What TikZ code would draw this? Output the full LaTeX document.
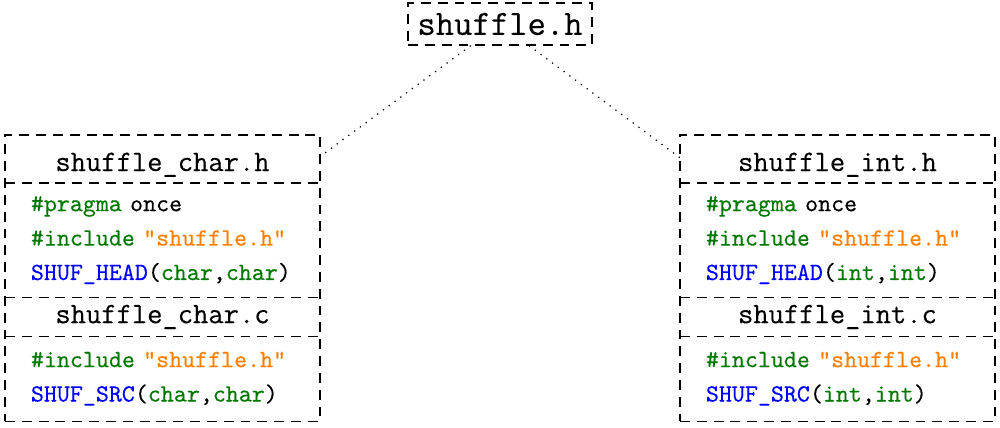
\documentclass[tikz,border=0pt]{standalone}
\usepackage{xcolor}
\usepackage{fontspec}
\setmonofont{Latin Modern Mono}[FakeBold=0.25]
\usepackage{tikz}
\usetikzlibrary{positioning, fit}
\definecolor{mygreen}{RGB}{0,120,0}
\definecolor{myorange}{RGB}{255,128,0}
\definecolor{myblue}{RGB}{0,0,255}
\newcommand{\codekw}[1]{\textcolor{mygreen}{#1}}
\newcommand{\codestr}[1]{\textcolor{myorange}{#1}}
\newcommand{\codefn}[1]{\textcolor{myblue}{#1}}
\tikzset{
  dash frame/.style={line width=0.45pt, dash pattern=on 4pt off 2.8pt},
  topfile/.style={rectangle, draw, dash frame, minimum width=74.3pt,
    minimum height=17pt, inner sep=0pt, font=\Large\ttfamily},
  filettl/.style={rectangle, minimum width=127.3pt, minimum height=19.4pt,
    inner sep=0pt, outer sep=0pt, font=\large\ttfamily},
  filecode/.style={rectangle, text width=106.3pt, inner xsep=10.5pt,
    inner ysep=0pt, outer sep=0pt, align=left,
    font=\ttfamily\fontsize{10}{13.9}\selectfont},
  filebox/.style={rectangle, draw, dash frame, inner sep=0pt},
  sepline/.style={dash frame},
  link/.style={line width=0.5pt, dash pattern=on 0.5pt off 2.4pt}
}

\begin{document}
\begin{tikzpicture}[x=0.404pt, y=-0.404pt]
  \useasboundingbox (0,0) rectangle (1000,428);

  \node[topfile] (shuf) at (500,24) {shuffle.h};

  % char version
  \node[filettl, anchor=north, text height=11pt, text depth=1.3pt] (lhttl)
    at (162.5,135) {shuffle\_char.h};
  \node[filecode, below=0pt of lhttl, minimum height=46.1pt] (lhcode)
    {\codekw{\#pragma} once\\
     \codekw{\#include} \codestr{"shuffle.h"}\\
     \codefn{SHUF\_HEAD}(\codekw{char},\codekw{char})};
  \node[filettl, below=0pt of lhcode, minimum height=15.8pt,
    text height=8pt, text depth=2.75pt] (lcttl) {shuffle\_char.c};
  \node[filecode, below=0pt of lcttl, minimum height=34.3pt] (lccode)
    {\codekw{\#include} \codestr{"shuffle.h"}\\
     \codefn{SHUF\_SRC}(\codekw{char},\codekw{char})};
  \node[filebox, fit=(lhttl)(lccode)] (lbox) {};
  \draw[sepline] (lhttl.south west) -- (lhttl.south east);
  \draw[sepline] (lcttl.north west) -- (lcttl.north east);
  \draw[sepline] (lcttl.south west) -- (lcttl.south east);

  % int version
  \node[filettl, anchor=north, text height=11pt, text depth=1.3pt] (rhttl)
    at (837.5,135) {shuffle\_int.h};
  \node[filecode, below=0pt of rhttl, minimum height=46.1pt] (rhcode)
    {\codekw{\#pragma} once\\
     \codekw{\#include} \codestr{"shuffle.h"}\\
     \codefn{SHUF\_HEAD}(\codekw{int},\codekw{int})};
  \node[filettl, below=0pt of rhcode, minimum height=15.8pt,
    text height=8pt, text depth=2.75pt] (rcttl) {shuffle\_int.c};
  \node[filecode, below=0pt of rcttl, minimum height=34.3pt] (rccode)
    {\codekw{\#include} \codestr{"shuffle.h"}\\
     \codefn{SHUF\_SRC}(\codekw{int},\codekw{int})};
  \node[filebox, fit=(rhttl)(rccode)] (rbox) {};
  \draw[sepline] (rhttl.south west) -- (rhttl.south east);
  \draw[sepline] (rcttl.north west) -- (rcttl.north east);
  \draw[sepline] (rcttl.south west) -- (rcttl.south east);

  \draw[link] (shuf) -- ([yshift=1pt]lhttl.east);
  \draw[link] (shuf) -- ([yshift=0.5pt]rhttl.west);
\end{tikzpicture}
\end{document}
